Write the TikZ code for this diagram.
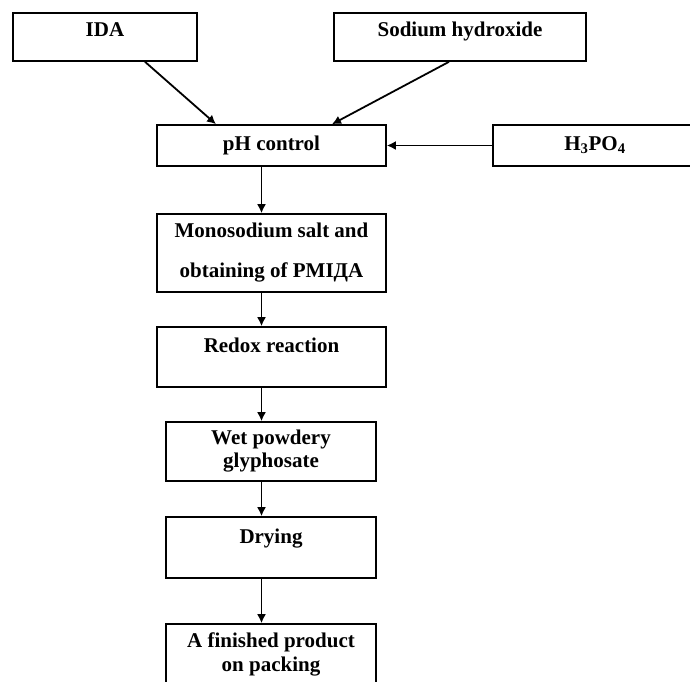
\documentclass[tikz,border=0pt]{standalone}
\usepackage{fontspec}
\setmainfont{Liberation Serif}
\usepackage{tikz}
\usetikzlibrary{arrows.meta}

\begin{document}
\begin{tikzpicture}[
    x=1pt, y=-1pt,
    line width=1.6pt,
    every node/.style={font=\fontsize{21}{24}\selectfont\bfseries},
    stepbox/.style={draw, rectangle, inner sep=0pt, align=center},
    topline/.style={text height=15pt, text depth=#1},
    flow/.style={-{Latex[length=9pt,width=9pt]}, line width=1.8pt},
]
\useasboundingbox (0,0) rectangle (690,681);

% --- Raw materials ---
\node[stepbox, minimum width=184pt, minimum height=48pt, topline=17pt] (ida) at (105,37) {IDA};
\node[stepbox, minimum width=252pt, minimum height=48pt, topline=17pt] (naoh) at (460,37) {Sodium hydroxide};
\node[stepbox, minimum width=204pt, minimum height=41pt] (acid) at (595,145.5) {H\textsubscript{3}PO\textsubscript{4}};

% --- Process chain ---
\node[stepbox, minimum width=229pt, minimum height=41pt] (ph) at (271.5,145.5) {pH control};
\node[stepbox, minimum width=229pt, minimum height=78pt] (mono) at (271.5,253) {Monosodium salt and\\[16pt]obtaining of PMIДA};
\node[stepbox, minimum width=229pt, minimum height=60pt, topline=24pt] (redox) at (271.5,357) {Redox reaction};
\node[stepbox, minimum width=210pt, minimum height=59pt] (wet) at (271,451.5) {Wet powdery\\[-1pt]glyphosate};
\node[stepbox, minimum width=210pt, minimum height=61pt, topline=24pt] (dry) at (271,547.5) {Drying};
\node[stepbox, minimum width=210pt, minimum height=60pt] (fin) at (271,654) {A finished product\\on packing};

\coordinate (spine) at (261.5,0);

% --- Connectors ---
\draw[flow] ([xshift=40pt]ida.south) -- ([xshift=-55.5pt]ph.north);
\draw[flow] ([xshift=-11pt]naoh.south) -- ([xshift=60.5pt]ph.north);
\draw[flow] (acid.west) -- (ph.east);

\draw[flow] (ph.south -| spine) -- (mono.north -| spine);
\draw[flow] (mono.south -| spine) -- (redox.north -| spine);
\draw[flow] (redox.south -| spine) -- (wet.north -| spine);
\draw[flow] (wet.south -| spine) -- (dry.north -| spine);
\draw[flow] (dry.south -| spine) -- (fin.north -| spine);

\end{tikzpicture}
\end{document}
